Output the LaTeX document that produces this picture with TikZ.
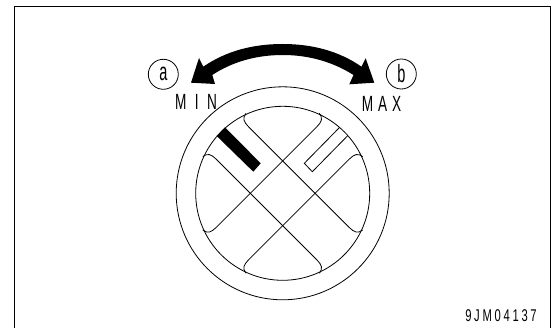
\documentclass[tikz,border=0pt]{standalone}
\usepackage{fontspec}
\setsansfont{Liberation Sans}
\newfontfamily\platefont[FakeStretch=0.62,LetterSpace=22]{Liberation Sans}
\newfontfamily\minfont[FakeStretch=0.62,LetterSpace=38]{Liberation Sans}
\newfontfamily\letterfont[FakeStretch=0.58]{Liberation Sans}
\newfontfamily\codefont[FakeStretch=0.66,LetterSpace=16]{Liberation Sans}
\usetikzlibrary{positioning}

\begin{document}
\begin{tikzpicture}[x=1pt,y=-1pt,
wire/.style={draw,line width=0.8pt},
letter/.style={circle,draw,line width=0.8pt,minimum size=30pt,inner sep=0pt,font=\letterfont\fontsize{25}{25}\selectfont},
plate/.style={inner sep=0pt,font=\platefont\fontsize{22}{22}\selectfont},
code/.style={inner sep=0pt,font=\codefont\fontsize{17}{17}\selectfont}
]
\useasboundingbox (0,0) rectangle (553,328);
\fill[white] (0,0) rectangle (553,328);
\draw[wire] (14,328) |- (550,6) -- (550,328);
% dial
\coordinate (dial) at (282.7,193.3);
\draw[wire] (dial) circle[radius=106.5pt];
\draw[wire] (dial) circle[radius=87pt];
\begin{scope}[shift={(dial)}]
\foreach \a in {0,90,180,270}
  \draw[wire,rotate=\a] (-36.7,-80) .. controls (-40.5,-75) and (-39,-71.5) .. (-34.3,-66.7) -- (66.7,34.3) .. controls (71.5,39) and (75,40.5) .. (80,36.7);
\fill[black] (-66,-57.3) -- (-57.7,-66) -- (-22,-30) -- (-29.4,-21.6) -- cycle;
\draw[wire] (65,-57.6) -- (29.6,-21.6) -- (21.6,-30) -- (56.6,-65.6);
\end{scope}
% arrow
\fill[black] (191,82.7) -- (199,58) -- (203.3,66.7) .. controls (226,51) and (253,44) .. (282.7,44) .. controls (312,44) and (339,51) .. (361.5,66.7) -- (365.7,58.3) -- (374.3,82.7) -- (349.3,84.3) -- (353.5,75) .. controls (333,62) and (309,55) .. (282.7,55) .. controls (256,55) and (232,62) .. (212.3,75) -- (215,84) -- cycle;
% labels
\node[letter] (a) at (163.3,74.3) {a};
\node[letter] (b) at (401.3,74) {b};
\node[plate,font=\minfont\fontsize{22}{22}\selectfont] (min) at (196,102) {MIN};
\node[plate] (max) at (381.5,104) {MAX};
\node[code] (num) at (501,316) {9JM04137};
\end{tikzpicture}
\end{document}
